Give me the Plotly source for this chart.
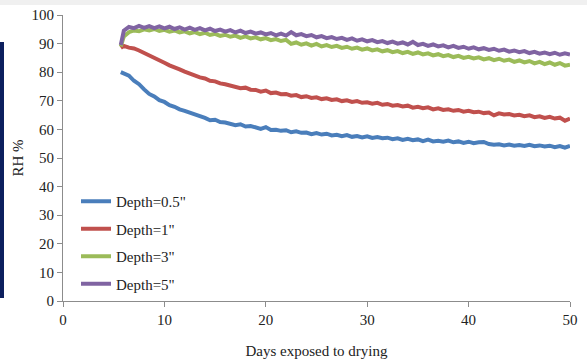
import plotly.graph_objects as go

days = [5.7] + [round(6.0 + 0.5 * i, 1) for i in range(89)]

depth_05 = [80.0, 79.5, 78.8, 77.0, 75.8, 74.0, 72.4, 71.5, 70.2, 69.6, 68.5, 67.9, 67.0, 66.5, 65.8, 65.0,
            64.6, 64.0, 63.2, 63.4, 62.6, 62.4, 62.0, 61.5, 61.8, 61.0, 61.2, 60.6, 60.2, 60.8, 59.8, 59.9,
            59.5, 59.7, 59.0, 59.3, 58.8, 58.9, 58.3, 58.7, 58.2, 58.5, 57.9, 58.1, 57.6, 58.0, 57.4, 57.7,
            57.2, 57.6, 57.0, 57.3, 56.9, 57.1, 56.6, 56.9, 56.3, 56.7, 56.2, 56.5, 55.9, 56.4, 55.8, 56.0,
            55.7, 56.1, 55.5, 55.8, 55.3, 55.7, 55.2, 55.5, 55.6, 54.9, 54.6, 54.8, 54.4, 54.7, 54.3, 54.5,
            54.2, 54.6, 54.1, 54.4, 54.0, 54.3, 53.8, 54.2, 53.6, 54.2]
depth_1 = [88.5, 89.2, 88.6, 88.3, 87.6, 86.8, 86.0, 85.0, 84.2, 83.3, 82.4, 81.8, 81.0, 80.2, 79.5, 79.0,
           78.2, 77.8, 77.0, 76.8, 76.1, 75.8, 75.3, 75.0, 74.4, 74.6, 73.9, 73.8, 73.2, 73.6, 72.7, 72.9,
           72.3, 72.4, 71.8, 72.0, 71.3, 71.6, 71.0, 71.2, 70.6, 70.9, 70.3, 70.5, 69.9, 70.2, 69.6, 69.9,
           69.3, 69.5, 69.0, 69.3, 68.6, 68.9, 68.3, 68.5, 68.0, 68.3, 67.6, 67.9, 67.4, 67.7, 67.0, 67.4,
           66.8, 67.0, 66.5, 66.8, 66.2, 66.5, 66.0, 66.2, 65.7, 65.9, 64.9, 65.6, 65.2, 65.4, 64.9, 65.1,
           64.6, 64.9, 64.3, 64.6, 64.0, 64.4, 63.8, 64.1, 63.0, 63.8]
depth_3 = [89.0, 92.5, 94.0, 94.6, 94.3, 95.0, 94.6, 95.1, 94.4, 94.8, 94.2, 94.6, 93.9, 94.3, 93.6, 94.0,
           93.3, 93.8, 93.0, 93.4, 92.7, 93.1, 92.4, 92.8, 92.0, 92.5, 91.8, 92.2, 91.5, 91.9, 91.2, 91.6,
           90.9, 91.3, 89.9, 90.4, 89.6, 90.1, 89.3, 89.9, 89.0, 89.5, 88.8, 89.2, 88.5, 88.9, 88.2, 88.6,
           87.9, 88.3, 87.6, 88.0, 87.3, 87.7, 87.0, 87.4, 86.7, 87.1, 86.4, 86.9, 86.2, 86.6, 85.9, 86.3,
           85.6, 86.0, 85.3, 85.7, 85.0, 85.4, 84.8, 85.2, 84.5, 84.9, 84.2, 84.7, 84.0, 84.4, 83.6, 84.1,
           83.4, 83.9, 83.1, 83.6, 82.8, 83.4, 82.6, 83.2, 82.3, 82.6]
depth_5 = [89.5, 94.5, 95.8, 95.4, 96.2, 95.5, 96.1, 95.4, 96.0, 95.3, 95.9, 95.1, 95.7, 94.9, 95.6, 94.8,
           95.4, 94.6, 95.2, 94.4, 94.9, 94.2, 94.7, 93.9, 94.5, 93.7, 94.2, 93.5, 93.9, 93.2, 93.7, 92.9,
           93.5, 92.8, 94.0, 92.9, 93.3, 92.6, 93.0, 92.2, 92.6, 91.9, 92.3, 91.6, 92.0, 91.3, 91.8, 91.0,
           91.5, 90.8, 91.2, 90.5, 90.9, 90.2, 90.7, 90.0, 90.4, 89.7, 90.6, 89.5, 89.9, 89.2, 89.7, 89.0,
           89.4, 88.7, 89.2, 88.5, 88.9, 88.2, 88.7, 88.0, 88.4, 87.8, 88.2, 87.5, 87.9, 87.2, 87.6, 87.0,
           87.4, 86.7, 87.1, 86.5, 86.9, 86.3, 86.8, 86.1, 86.6, 86.2]

series_names = ['Depth=0.5"', 'Depth=1"', 'Depth=3"', 'Depth=5"']
series_values = [depth_05, depth_1, depth_3, depth_5]
series_colors = ["#4a7ebb", "#c0504d", "#9bbb59", "#8064a2"]

x_ticks = [0, 10, 20, 30, 40, 50]
y_ticks = [0, 10, 20, 30, 40, 50, 60, 70, 80, 90, 100]

fig = go.Figure()
for name, vals, col in zip(series_names, series_values, series_colors):
    fig.add_trace(go.Scatter(x=days, y=vals, mode="lines", name=name, legendgroup=name,
                             line=dict(color=col, width=4)))

font_family = "Liberation Serif, Times New Roman, serif"
axis_common = dict(showgrid=False, zeroline=False, showline=True, linecolor="#8c8c8c", linewidth=1,
                   ticks="outside", ticklen=5, tickcolor="#8c8c8c", automargin=False,
                   tickfont=dict(family=font_family, size=15, color="#222222"))

W, H = 587, 360
L, R, T, B = 63, 17, 15, 59
pw, ph = W - L - R, H - T - B

fig.update_layout(
    width=W, height=H,
    margin=dict(l=L, r=R, t=T, b=B),
    paper_bgcolor="white", plot_bgcolor="white",
    showlegend=True,
    legend=dict(x=13 / pw, y=(301 - 185) / ph, xanchor="left", yanchor="top", bgcolor="rgba(0,0,0,0)",
                font=dict(family=font_family, size=15, color="#222222"),
                itemwidth=30, traceorder="grouped", tracegroupgap=5),
    xaxis=dict(range=[0, 50], tickvals=x_ticks, **axis_common,
               title=dict(text="Days exposed to drying", font=dict(family=font_family, size=15, color="#222222"),
                          standoff=18)),
    yaxis=dict(range=[0, 100], tickvals=y_ticks, **axis_common,
               title=dict(text="RH %", font=dict(family=font_family, size=15, color="#222222"), standoff=4)),
    shapes=[
        dict(type="rect", xref="paper", yref="paper", x0=-L / pw, x1=(4 - L) / pw,
             y0=(H - B - 298) / ph, y1=(H - B - 42) / ph,
             fillcolor="#0c1f5e", line=dict(width=0), layer="above"),
        dict(type="rect", xref="paper", yref="paper", x0=-L / pw, x1=1 + R / pw,
             y0=(H - B - 0) / ph, y1=(H - B - 5) / ph,
             fillcolor="#f0f0f0", line=dict(width=0), layer="below"),
    ],
)

fig.write_html("out.html", config={"displayModeBar": False},
               post_script="document.body.style.margin='0';document.body.style.padding='0';")
